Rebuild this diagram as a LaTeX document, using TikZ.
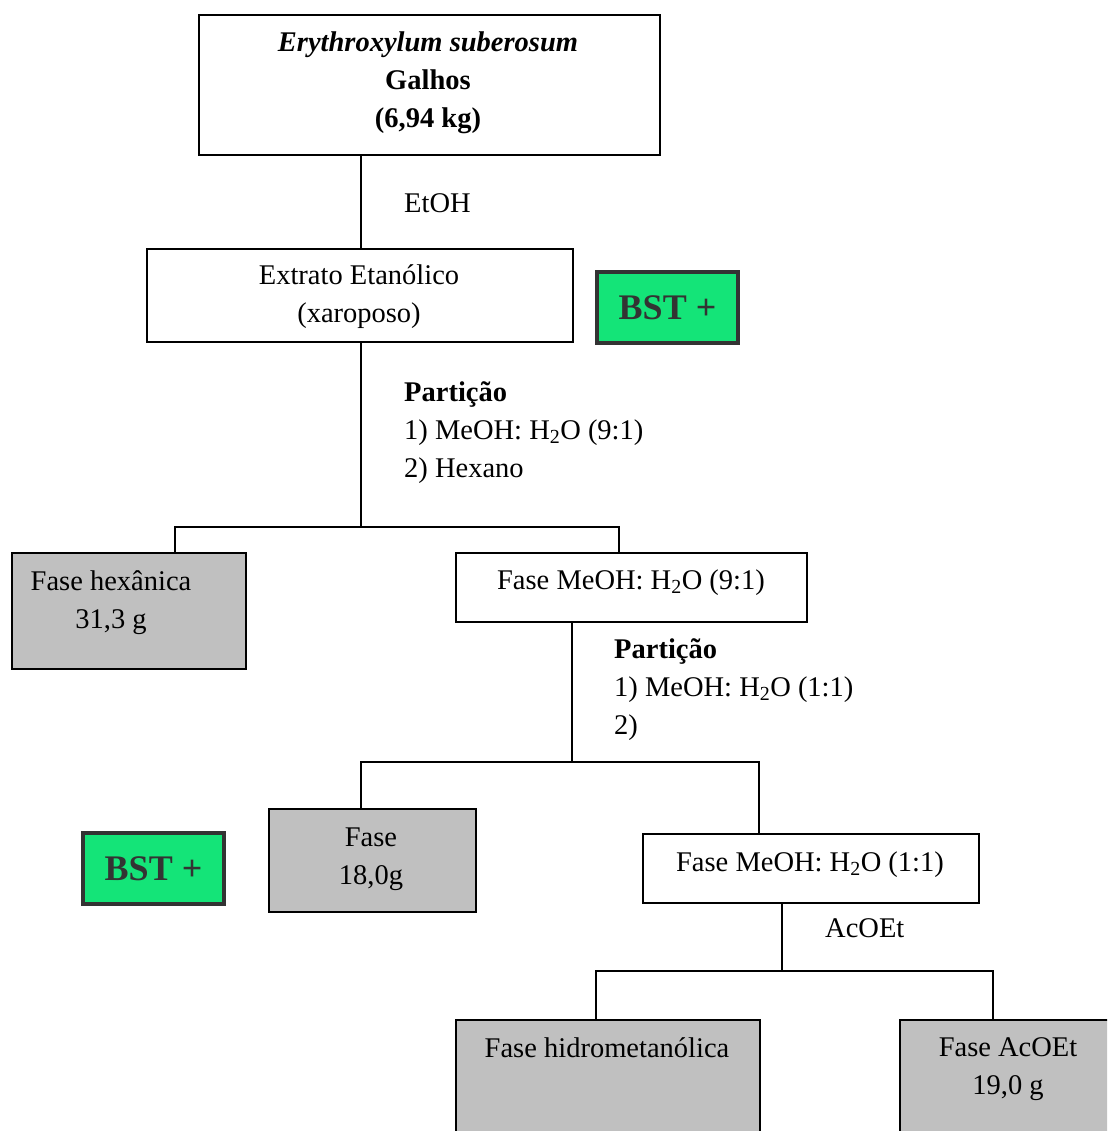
\documentclass[tikz,border=0pt]{standalone}
\usepackage{fontspec}
\setmainfont{Liberation Serif}
\usepackage{xcolor}
\usetikzlibrary{positioning, calc}

\definecolor{bstgreen}{HTML}{14E478}
\definecolor{bstdark}{HTML}{333333}
\definecolor{fasegray}{HTML}{C0C0C0}

\begin{document}
\begin{tikzpicture}[x=1pt, y=-1pt,
    box/.style={draw, line width=1.8pt, anchor=north west, inner sep=0pt},
    whitebox/.style={box, fill=white},
    graybox/.style={box, fill=fasegray},
    bstbox/.style={draw=bstdark, line width=4pt, fill=bstgreen, anchor=north west,
        inner sep=0pt, text=bstdark, font=\fontsize{36}{40}\selectfont\bfseries},
    txt/.style={font=\fontsize{28.5}{38}\selectfont, align=center, inner sep=0pt, anchor=base},
    lefttxt/.style={txt, align=left, anchor=base west},
    link/.style={line width=1.8pt}]
\clip (0,0) rectangle (1107,1131);
\useasboundingbox (0,0) rectangle (1107,1131);

% Boxes
\node[whitebox, minimum width=461pt, minimum height=140pt] (galhos) at (198,14) {};
\node[whitebox, minimum width=426pt, minimum height=93pt] (extrato) at (146,248) {};
\node[bstbox, minimum width=141pt, minimum height=71pt] (bstA) at (595,270) {BST +};
\node[graybox, minimum width=234pt, minimum height=116pt] (hexa) at (11,552) {};
\node[whitebox, minimum width=351pt, minimum height=69pt] (meohA) at (455,552) {};
\node[bstbox, minimum width=141pt, minimum height=71pt] (bstB) at (81,831) {BST +};
\node[graybox, minimum width=207pt, minimum height=103pt] (fase) at (268,808) {};
\node[whitebox, minimum width=336pt, minimum height=69pt] (meohB) at (642,833) {};
\node[graybox, minimum width=304pt, minimum height=140pt] (hidro) at (455,1019) {};
\node[graybox, minimum width=240pt, minimum height=140pt] (acoet) at (899,1019) {};

% Box texts (base = last line)
\node[txt] (galhostxt) at (428,128) {\textit{\textbf{Erythroxylum suberosum}}\\ \textbf{Galhos}\\ \textbf{(6,94 kg)}};
\node[txt] (extratotxt) at (359,322) {Extrato Etanólico\\ (xaroposo)};
\node[txt] (hexatxt) at (111,628) {Fase hexânica\\ 31,3 g};
\node[txt] (meohAtxt) at (631,589) {Fase MeOH: H\textsubscript{2}O (9:1)};
\node[txt] (fasetxt) at (371,884) {Fase\\ 18,0g};
\node[txt] (meohBtxt) at (810,871) {Fase MeOH: H\textsubscript{2}O (1:1)};
\node[txt] (hidrotxt) at (607,1057) {Fase hidrometanólica};
\node[txt] (acoettxt) at (1008,1094) {Fase AcOEt\\ 19,0 g};

% Solvent labels
\node[lefttxt] (etoh) at (404,213) {EtOH};
\node[lefttxt] (partA) at (404,477) {\textbf{Partição}\\ 1) MeOH: H\textsubscript{2}O (9:1)\\ 2) Hexano};
\node[lefttxt] (partB) at (614,734) {\textbf{Partição}\\ 1) MeOH: H\textsubscript{2}O (1:1)\\ 2)};
\node[lefttxt] (acoetlbl) at (825,937) {AcOEt};

% Connectors
\coordinate (splitA) at (361,527);
\coordinate (splitB) at (572,762);
\coordinate (splitC) at (782,971);
\draw[link] (galhos.south -| splitA) -- (extrato.north -| splitA);
\draw[link] (extrato.south -| splitA) -- (splitA);
\draw[link] (hexa.north -| 175,0) -- (175,527) -- (619,527) -- (meohA.north -| 619,0);
\draw[link] (meohA.south -| splitB) -- (splitB);
\draw[link] (fase.north -| 361,0) -- (361,762) -- (759,762) -- (meohB.north -| 759,0);
\draw[link] (meohB.south -| splitC) -- (splitC);
\draw[link] (hidro.north -| 596,0) -- (596,971) -- (993,971) -- (acoet.north -| 993,0);
\end{tikzpicture}
\end{document}
